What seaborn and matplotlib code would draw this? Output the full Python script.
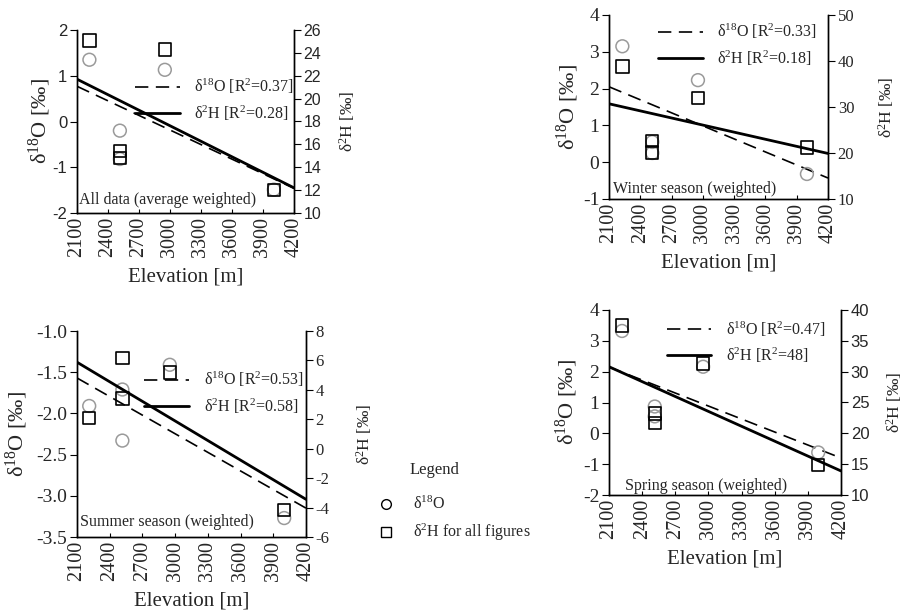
import numpy as np
import pandas as pd
import matplotlib
matplotlib.use("Agg")
import matplotlib.pyplot as plt
import seaborn as sns
from matplotlib.lines import Line2D

sns.set_theme(style="ticks")
plt.rcParams["font.family"] = ["Liberation Serif", "DejaVu Serif"]
plt.rcParams["mathtext.fontset"] = "custom"
plt.rcParams["mathtext.rm"] = "Liberation Serif"
plt.rcParams["mathtext.it"] = "Liberation Serif:italic"
plt.rcParams["mathtext.bf"] = "Liberation Serif:bold"
plt.rcParams["mathtext.default"] = "regular"
plt.rcParams["axes.unicode_minus"] = False

# ---------------- data ----------------
elev_ticks = [2100, 2400, 2700, 3000, 3300, 3600, 3900, 4200]
fit_x = [2100, 4200]

# All data (average weighted)
all_elev = [2220, 2515, 2515, 2950, 4005]
all_d18o = [1.35, -0.20, -0.82, 1.13, -1.49]
all_d2h = [25.1, 15.4, 14.8, 24.3, 12.0]
all_fit_o = [0.77, -1.46]
all_fit_h = [21.7, 12.2]

# Winter season (weighted)
win_elev = [2228, 2515, 2515, 2953, 3998]
win_d18o = [3.15, 0.55, 0.25, 2.23, -0.32]
win_d2h = [38.8, 22.6, 20.1, 31.9, 21.2]
win_fit_o = [2.05, -0.43]
win_fit_h = [30.7, 19.9]

# Summer season (weighted)
sum_elev = [2212, 2516, 2516, 2951, 4000]
sum_d18o = [-1.91, -1.71, -2.33, -1.41, -3.27]
sum_d2h = [2.1, 6.15, 3.42, 5.18, -4.17]
sum_fit_o = [-1.57, -3.15]
sum_fit_h = [5.88, -3.44]

# Spring season (weighted)
spr_elev = [2218, 2514, 2514, 2952, 3994]
spr_d18o = [3.32, 0.87, 0.55, 2.16, -0.62]
spr_d2h = [37.5, 23.2, 21.7, 31.3, 14.9]
spr_fit_o = [2.15, -0.80]
spr_fit_h = [30.8, 13.9]

r2_labels = {
    "all": ("0.37", "0.28"),
    "win": ("0.33", "0.18"),
    "sum": ("0.53", "0.58"),
    "spr": ("0.47", "48"),
}

# --------------- layout ----------------
W, H = 904, 614
fig = plt.figure(figsize=(9.04, 6.14), dpi=100)


def rect(l, t, r, b):
    return [l / W, 1 - b / H, (r - l) / W, (b - t) / H]


panels = [
    dict(key="all", rect=rect(77, 30, 294, 213), elev=all_elev, o=all_d18o, h=all_d2h,
         fo=all_fit_o, fh=all_fit_h, ylim=(-2, 2), yt=np.arange(-2, 3, 1), yfmt="{:.0f}",
         y2lim=(10, 26), y2t=np.arange(10, 27, 2), lfont="Liberation Sans", lsize=12,
         rfont="Liberation Sans", rsize=11.5, text="All data (average weighted)",
         txy=(0.01, 0.07), leg=(1.0, 0.743), ylx=-0.11, y2lx=1.2),
    dict(key="win", rect=rect(609, 15, 828, 199), elev=win_elev, o=win_d18o, h=win_d2h,
         fo=win_fit_o, fh=win_fit_h, ylim=(-1, 4), yt=np.arange(-1, 5, 1), yfmt="{:.0f}",
         y2lim=(10, 50), y2t=np.arange(10, 51, 10), lfont="Liberation Serif", lsize=14,
         rfont="Liberation Serif", rsize=12, text="Winter season (weighted)",
         txy=(0.02, 0.055), leg=(0.95, 0.963), ylx=-0.13, y2lx=1.22),
    dict(key="sum", rect=rect(77, 331, 306, 537), elev=sum_elev, o=sum_d18o, h=sum_d2h,
         fo=sum_fit_o, fh=sum_fit_h, ylim=(-3.5, -1.0), yt=np.arange(-3.5, -0.99, 0.5),
         yfmt="{:.1f}", y2lim=(-6, 8), y2t=np.arange(-6, 9, 2), lfont="Liberation Serif",
         lsize=14, rfont="Liberation Serif", rsize=12, text="Summer season (weighted)",
         txy=(0.013, 0.072), leg=(0.99, 0.81), ylx=-0.205, y2lx=1.21),
    dict(key="spr", rect=rect(609, 310, 841, 495), elev=spr_elev, o=spr_d18o, h=spr_d2h,
         fo=spr_fit_o, fh=spr_fit_h, ylim=(-2, 4), yt=np.arange(-2, 5, 1), yfmt="{:.0f}",
         y2lim=(10, 40), y2t=np.arange(10, 41, 5), lfont="Liberation Serif", lsize=14,
         rfont="Liberation Sans", rsize=12, text="Spring season (weighted)",
         txy=(0.07, 0.05), leg=(0.935, 0.95), ylx=-0.125, y2lx=1.185),
]

dash = (0, (8, 4.5))

for p in panels:
    ax = fig.add_axes(p["rect"])
    ax2 = ax.twinx()
    ax.set_zorder(1)
    ax2.set_zorder(2)
    ax.patch.set_visible(True)
    ax2.patch.set_visible(False)

    dfo = pd.DataFrame({"elev": p["elev"], "val": p["o"]})
    dfh = pd.DataFrame({"elev": p["elev"], "val": p["h"]})
    sns.scatterplot(data=dfo, x="elev", y="val", ax=ax, marker="o", s=85,
                    facecolor="none", edgecolor="#9a9a9a", linewidth=1.1, legend=False, zorder=3)
    sns.lineplot(x=fit_x, y=p["fo"], ax=ax, color="black", linewidth=1.2,
                 linestyle=dash, legend=False, zorder=2)
    sns.scatterplot(data=dfh, x="elev", y="val", ax=ax2, marker="s", s=80,
                    facecolor="none", edgecolor="black", linewidth=1.2, legend=False, zorder=3)
    sns.lineplot(x=fit_x, y=p["fh"], ax=ax2, color="black", linewidth=2.0,
                 legend=False, zorder=2)

    ax.set_xlim(2100, 4200)
    ax.set_xticks(elev_ticks)
    ax.set_xticklabels([str(v) for v in elev_ticks], rotation=90, fontsize=14.5,
                       family="Liberation Serif")
    ax.set_ylim(*p["ylim"])
    ax.set_yticks(p["yt"])
    ax.set_yticklabels([p["yfmt"].format(v) for v in p["yt"]], fontsize=p["lsize"],
                       family=p["lfont"])
    ax2.set_ylim(*p["y2lim"])
    ax2.set_yticks(p["y2t"])
    ax2.set_yticklabels([f"{v:.0f}" for v in p["y2t"]], fontsize=p["rsize"],
                        family=p["rfont"])

    for a in (ax, ax2):
        for s in a.spines.values():
            s.set_color("black")
            s.set_linewidth(1.0)
        a.spines["top"].set_visible(False)
    ax.tick_params(axis="x", direction="in", length=3, width=0.8, color="black", pad=3)
    ax.tick_params(axis="y", direction="out", length=5, width=0.8, color="black", pad=2)
    ax2.tick_params(axis="y", direction="out", length=5, width=0.8, color="black", pad=2)

    ax.set_xlabel("Elevation [m]", fontsize=15, labelpad=7)
    ax.set_ylabel("δ$^{18}$O [‰]", fontsize=16)
    ax.yaxis.set_label_coords(p["ylx"], 0.5)
    ax2.set_ylabel("δ$^{2}$H [‰]", fontsize=12.5)
    ax2.yaxis.set_label_coords(p["y2lx"], 0.5)

    ax.text(p["txy"][0], p["txy"][1], p["text"], transform=ax.transAxes,
            fontsize=11.5, va="center", ha="left")

    r_o, r_h = r2_labels[p["key"]]
    handles = [Line2D([], [], color="black", lw=1.2, linestyle=dash),
               Line2D([], [], color="black", lw=2.0)]
    labels = [f"δ$^{{18}}$O [R$^{{2}}$={r_o}]", f"δ$^{{2}}$H [R$^{{2}}$={r_h}]"]
    ax2.legend(handles, labels, loc="upper right", bbox_to_anchor=p["leg"],
               frameon=False, fontsize=11.5, handlelength=2.8, handletextpad=0.9,
               borderaxespad=0, borderpad=0, labelspacing=0.45)

# figure-level legend
fig.text(410 / W, 1 - 470 / H, "Legend", fontsize=12, va="center", ha="left")
leg_handles = [Line2D([], [], marker="o", ls="none", mfc="none", mec="black", ms=7, mew=1.0),
               Line2D([], [], marker="s", ls="none", mfc="none", mec="black", ms=7, mew=1.0)]
fig.legend(leg_handles, ["δ$^{18}$O", "δ$^{2}$H for all figures"], loc="upper left",
           bbox_to_anchor=(378 / W, 1 - 496 / H), frameon=False, fontsize=11.5,
           handlelength=1.0, handletextpad=1.2, labelspacing=0.55, borderpad=0,
           borderaxespad=0)

fig.savefig("out.png", dpi=100)
